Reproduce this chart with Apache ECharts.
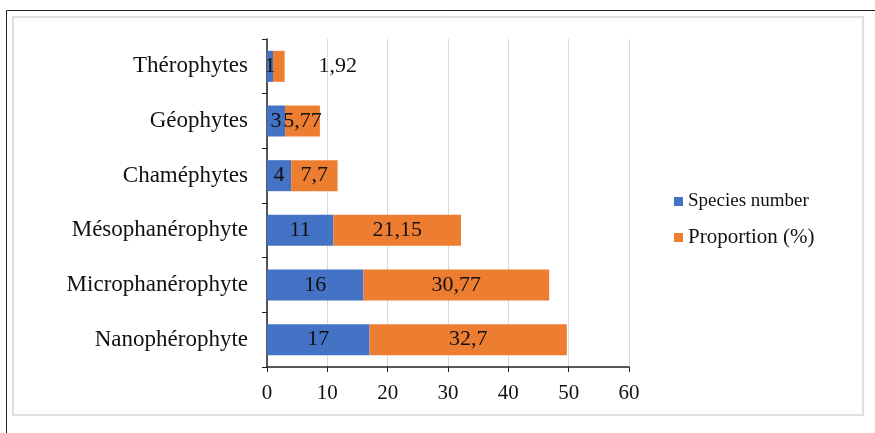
<!DOCTYPE html>
<html>
<head>
<meta charset="utf-8">
<script src="https://cdn.jsdelivr.net/npm/echarts@6/dist/echarts.min.js"></script>
<style>
  html, body { margin: 0; padding: 0; background: #fff; }
  #chart { width: 875px; height: 433px; }
</style>
</head>
<body>
<div id="chart"></div>
<script>
// données
const categories = ['Thérophytes', 'Géophytes', 'Chaméphytes', 'Mésophanérophyte', 'Microphanérophyte', 'Nanophérophyte'];
const speciesNumber = [1, 3, 4, 11, 16, 17];
const proportion = [1.92, 5.77, 7.7, 21.15, 30.77, 32.7];
const seriesNames = ['Species number', 'Proportion (%)'];

const serif = 'Liberation Serif';
const fmt = function (p) { return String(p.value).replace('.', ','); };

const chart = echarts.init(document.getElementById('chart'));

const propData = proportion.map(function (v, i) {
    // la première étiquette est décalée à droite de la barre
    if (i === 0) {
        return { value: v, label: { position: 'right', distance: 34 } };
    }
    return v;
});

const option = {
    animation: false,
    color: ['#4472C4', '#ED7D31'],
    graphic: [
        {
            type: 'rect',
            shape: { x: 6.5, y: 10.5, width: 900, height: 500 },
            style: { fill: 'none', stroke: '#222', lineWidth: 1 },
            silent: true
        },
        {
            type: 'rect',
            shape: { x: 13, y: 17, width: 850, height: 398 },
            style: { fill: 'none', stroke: '#e0e0e0', lineWidth: 2 },
            silent: true
        }
    ],
    grid: {
        left: 267,
        right: 246,
        top: 39,
        bottom: 66,
        containLabel: false
    },
    legend: {
        orient: 'vertical',
        left: 669,
        top: 187,
        itemWidth: 9,
        itemHeight: 9,
        itemGap: 16,
        icon: 'rect',
        data: seriesNames,
        formatter: function (name) {
            return name === seriesNames[0] ? '{a|' + name + '}' : '{b|' + name + '}';
        },
        textStyle: {
            fontFamily: serif,
            color: '#111',
            rich: {
                a: { fontFamily: serif, fontSize: 19, lineHeight: 20, color: '#111' },
                b: { fontFamily: serif, fontSize: 21, lineHeight: 20, color: '#111' }
            }
        }
    },
    xAxis: {
        type: 'value',
        min: 0,
        max: 60,
        interval: 10,
        axisLine: { show: true, lineStyle: { color: '#222', width: 1.5 } },
        axisTick: { show: true, length: 5, lineStyle: { color: '#222' } },
        splitLine: { show: true, lineStyle: { color: '#d9d9d9' } },
        axisLabel: { fontFamily: serif, fontSize: 21, color: '#111', margin: 16 }
    },
    yAxis: {
        type: 'category',
        inverse: true,
        data: categories,
        axisLine: { show: true, lineStyle: { color: '#222', width: 1.5 } },
        axisTick: { show: true, length: 5, lineStyle: { color: '#222' } },
        axisLabel: { fontFamily: serif, fontSize: 23, color: '#111', margin: 19 }
    },
    series: [
        {
            name: seriesNames[0],
            type: 'bar',
            stack: 'total',
            barWidth: 31,
            data: speciesNumber,
            label: { show: true, position: 'inside', formatter: fmt, fontFamily: serif, fontSize: 22, color: '#111' }
        },
        {
            name: seriesNames[1],
            type: 'bar',
            stack: 'total',
            barWidth: 31,
            data: propData,
            label: { show: true, position: 'inside', formatter: fmt, fontFamily: serif, fontSize: 22, color: '#111' }
        }
    ]
};

chart.setOption(option);
</script>
</body>
</html>
